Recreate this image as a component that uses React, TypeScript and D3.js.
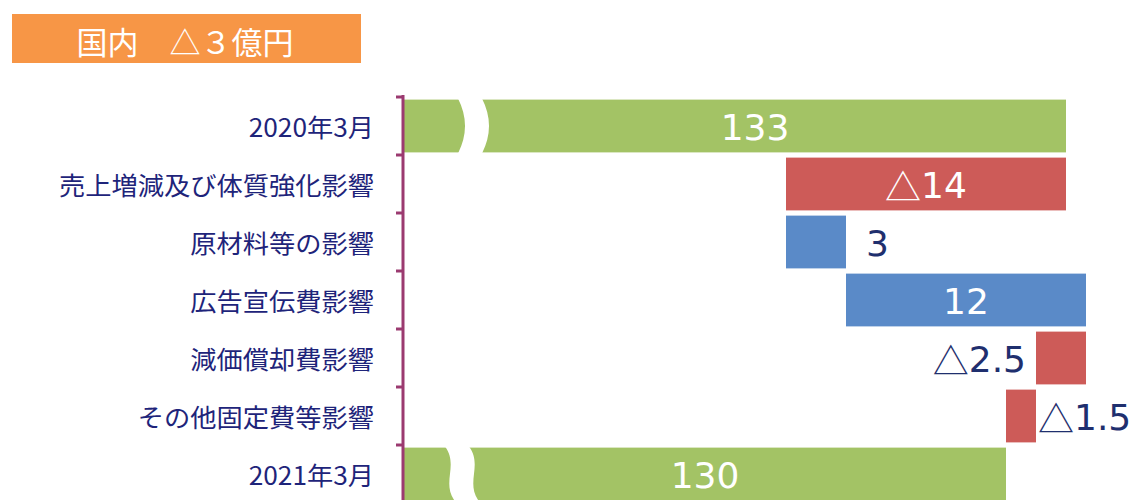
import React from "react";
import * as d3 from "d3";

// 単位：億円
const categories = [
    "2020年3月",
    "売上増減及び体質強化影響",
    "原材料等の影響",
    "広告宣伝費影響",
    "減価償却費影響",
    "その他固定費等影響",
    "2021年3月",
];
const values = [133, -14, 3, 12, -2.5, -1.5, 130];
const isTotal = [true, false, false, false, false, false, true];
const headerText = "国内　△３億円";

const W = 1141;
const H = 500;
const JP = "'Noto Sans CJK JP', 'Noto Sans', sans-serif";
const NUM = "'DejaVu Sans', 'Noto Sans CJK JP', sans-serif";

const GREEN = "#a3c365";
const RED = "#cd5b58";
const BLUE = "#5a8ac8";
const NAVY = "#1f2f6e";
const AXIS = "#9b3a70";

const App: React.FC = () => {
    const axisX = 403;

    const x = d3.scaleLinear().domain([100, 140]).range([406, 1206]);
    const y = d3
        .scaleBand<string>()
        .domain(categories)
        .range([97, 97 + 58 * categories.length])
        .paddingInner(0.09)
        .paddingOuter(0.045);

    // waterfall start / end
    let running = 0;
    const bars = categories.map((c, i) => {
        const v = values[i];
        let a: number, b: number;
        if (isTotal[i]) {
            a = 100;
            b = v;
            running = v;
        } else {
            a = running;
            b = running + v;
            running = b;
        }
        return { c, v, a, b, total: isTotal[i], i };
    });

    const ticks = d3.range(categories.length).map((i) => 97 + 58 * i);
    const breakX = [458, 445];

    const gapPath = (x0: number, y0: number, h: number, w: number, s: boolean) => {
        const t = y0 - 1;
        const bt = y0 + h + 1;
        const hh = bt - t;
        if (!s) {
            return `M${x0},${t} Q${x0 + 14},${t + hh / 2} ${x0},${bt} L${x0 + w},${bt} Q${x0 + w + 14},${t + hh / 2} ${x0 + w},${t} Z`;
        }
        return `M${x0},${t} C${x0 + 14},${t + hh * 0.35} ${x0 - 4},${t + hh * 0.65} ${x0 + 10},${bt} L${x0 + w + 10},${bt} C${x0 + w - 4},${t + hh * 0.65} ${x0 + w + 14},${t + hh * 0.35} ${x0 + w},${t} Z`;
    };

    return (
        <svg
            width={W}
            height={H}
            style={{ position: "absolute", left: 0, top: 0, background: "#fff" }}
        >
            {/* header */}
            <rect x={12} y={14} width={349} height={49} fill="#f79646" />
            <text
                x={185}
                y={40}
                fill="#fff"
                fontFamily={JP}
                fontSize={31}
                textAnchor="middle"
                dominantBaseline="central"
            >
                {headerText}
            </text>

            {/* bars */}
            {bars.map((d) => {
                const y0 = y(d.c)!;
                const h = y.bandwidth();
                const x0 = d.total ? axisX + 1 : x(Math.min(d.a, d.b));
                const x1 = x(Math.max(d.a, d.b));
                const fill = d.total ? GREEN : d.v < 0 ? RED : BLUE;
                const wBar = x1 - x0;
                const neg = d.v < 0;
                const num = String(Math.abs(d.v));
                const estW = num.length * 21 + (neg ? 32 : 0);
                const cy = y0 + h / 2;
                let lx: number, anchor: string, col: string;
                if (wBar > 100) {
                    lx = (x0 + x1) / 2 + (d.i === 0 ? 20 : 0);
                    anchor = "middle";
                    col = "#fff";
                } else if (x1 + 2 + estW < W) {
                    lx = x1 + (neg ? 2 : 20);
                    anchor = "start";
                    col = NAVY;
                } else {
                    lx = x0 - 10;
                    anchor = "end";
                    col = NAVY;
                }
                return (
                    <g key={d.c}>
                        <rect x={x0} y={y0} width={wBar} height={h} fill={fill} />
                        {d.total && (
                            <path
                                d={gapPath(breakX[d.i === 0 ? 0 : 1], y0, h, 24, d.i !== 0)}
                                fill="#fff"
                            />
                        )}
                        <text
                            x={lx}
                            y={cy + 1}
                            fill={col}
                            fontFamily={NUM}
                            fontSize={36}
                            textAnchor={anchor}
                            dominantBaseline="central"
                        >
                            {neg && <tspan fontFamily={JP}>△</tspan>}
                            {num}
                        </text>
                    </g>
                );
            })}

            {/* axis */}
            <line x1={axisX} x2={axisX} y1={95} y2={H} stroke={AXIS} strokeWidth={3} />
            {ticks.map((t) => (
                <line key={t} x1={396} x2={axisX} y1={t} y2={t} stroke={AXIS} strokeWidth={3} />
            ))}

            {/* category labels */}
            {categories.map((c) => (
                <text
                    key={c}
                    transform={`translate(374,${y(c)! + y.bandwidth() / 2}) scale(1.05,1)`}
                    fill="#1e247a"
                    fontFamily={JP}
                    fontSize={25}
                    textAnchor="end"
                    dominantBaseline="central"
                >
                    {c}
                </text>
            ))}
        </svg>
    );
};

export default App;
